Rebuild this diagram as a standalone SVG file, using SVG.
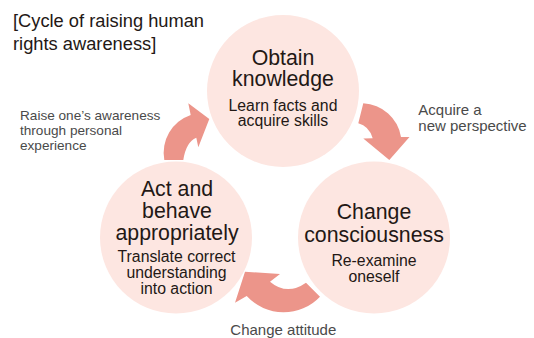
<svg xmlns="http://www.w3.org/2000/svg" width="534" height="338" viewBox="0 0 534 338">
<style>
.c{fill:#fde6e1}
.arr{fill:#ec958a}
text{font-family:"Liberation Sans",Arial,Helvetica,sans-serif}
.t{font-size:18.3px;fill:#231815}
.h{font-size:21.3px;fill:#231815;text-anchor:middle}
.s{font-size:15.8px;fill:#231815;text-anchor:middle}
.l{font-size:15px;fill:#4a4a4a}
.ls{font-size:13.6px}
.lm{text-anchor:middle}
</style>
<rect width="534" height="338" fill="#ffffff"/>
<text class="t"><tspan x="13" y="27.3">[Cycle of raising human</tspan><tspan x="13" y="50">rights awareness]</tspan></text>
<g id="connectors">
<path id="arrow-knowledge-consciousness" class="arr" d="M363.3,103.3 A40,40 0 0 1 401,137 L409.5,137 L389.3,160 L363.3,138.5 L372.7,138.3 Q369,126 358.3,123.3 Z"/>
<path id="arrow-consciousness-act" class="arr" d="M320,296.7 A50,50 0 0 1 246.7,296 L235,302.7 L245,271.7 L280,274 L270,281.7 Q287,296 306,282.7 Z"/>
<path id="arrow-act-knowledge" class="arr" d="M164.3,160 A40,40 0 0 1 190.7,115 L188.3,103.3 L209.3,119 L198.3,147.3 L196.3,137.7 Q186,142 183.3,160 Z"/>
<text class="l"><tspan x="418.3" y="115">Acquire a</tspan><tspan x="418.3" y="130.5">new perspective</tspan></text>
<text class="l lm" x="283.3" y="335">Change attitude</text>
<text class="l ls"><tspan x="20" y="119.7">Raise one’s awareness</tspan><tspan x="20" y="135">through personal</tspan><tspan x="20" y="150">experience</tspan></text>
</g>
<g id="node-obtain-knowledge">
<circle class="c" cx="283" cy="91" r="76"/>
<text class="h"><tspan x="283" y="64.5">Obtain</tspan><tspan x="283" y="86">knowledge</tspan></text>
<text class="s"><tspan x="283" y="110.5">Learn facts and</tspan><tspan x="283" y="126">acquire skills</tspan></text>
</g>
<g id="node-change-consciousness">
<circle class="c" cx="374" cy="237.5" r="76"/>
<text class="h"><tspan x="374" y="219.3">Change</tspan><tspan x="374" y="241.7">consciousness</tspan></text>
<text class="s"><tspan x="374" y="266">Re-examine</tspan><tspan x="374" y="281.7">oneself</tspan></text>
</g>
<g id="node-act-appropriately">
<circle class="c" cx="176" cy="237.5" r="76"/>
<text class="h"><tspan x="177" y="196">Act and</tspan><tspan x="177" y="218.3">behave</tspan><tspan x="177" y="239.5">appropriately</tspan></text>
<text class="s"><tspan x="176.5" y="262.3">Translate correct</tspan><tspan x="176.5" y="278">understanding</tspan><tspan x="176.5" y="293.5">into action</tspan></text>
</g>
</svg>
